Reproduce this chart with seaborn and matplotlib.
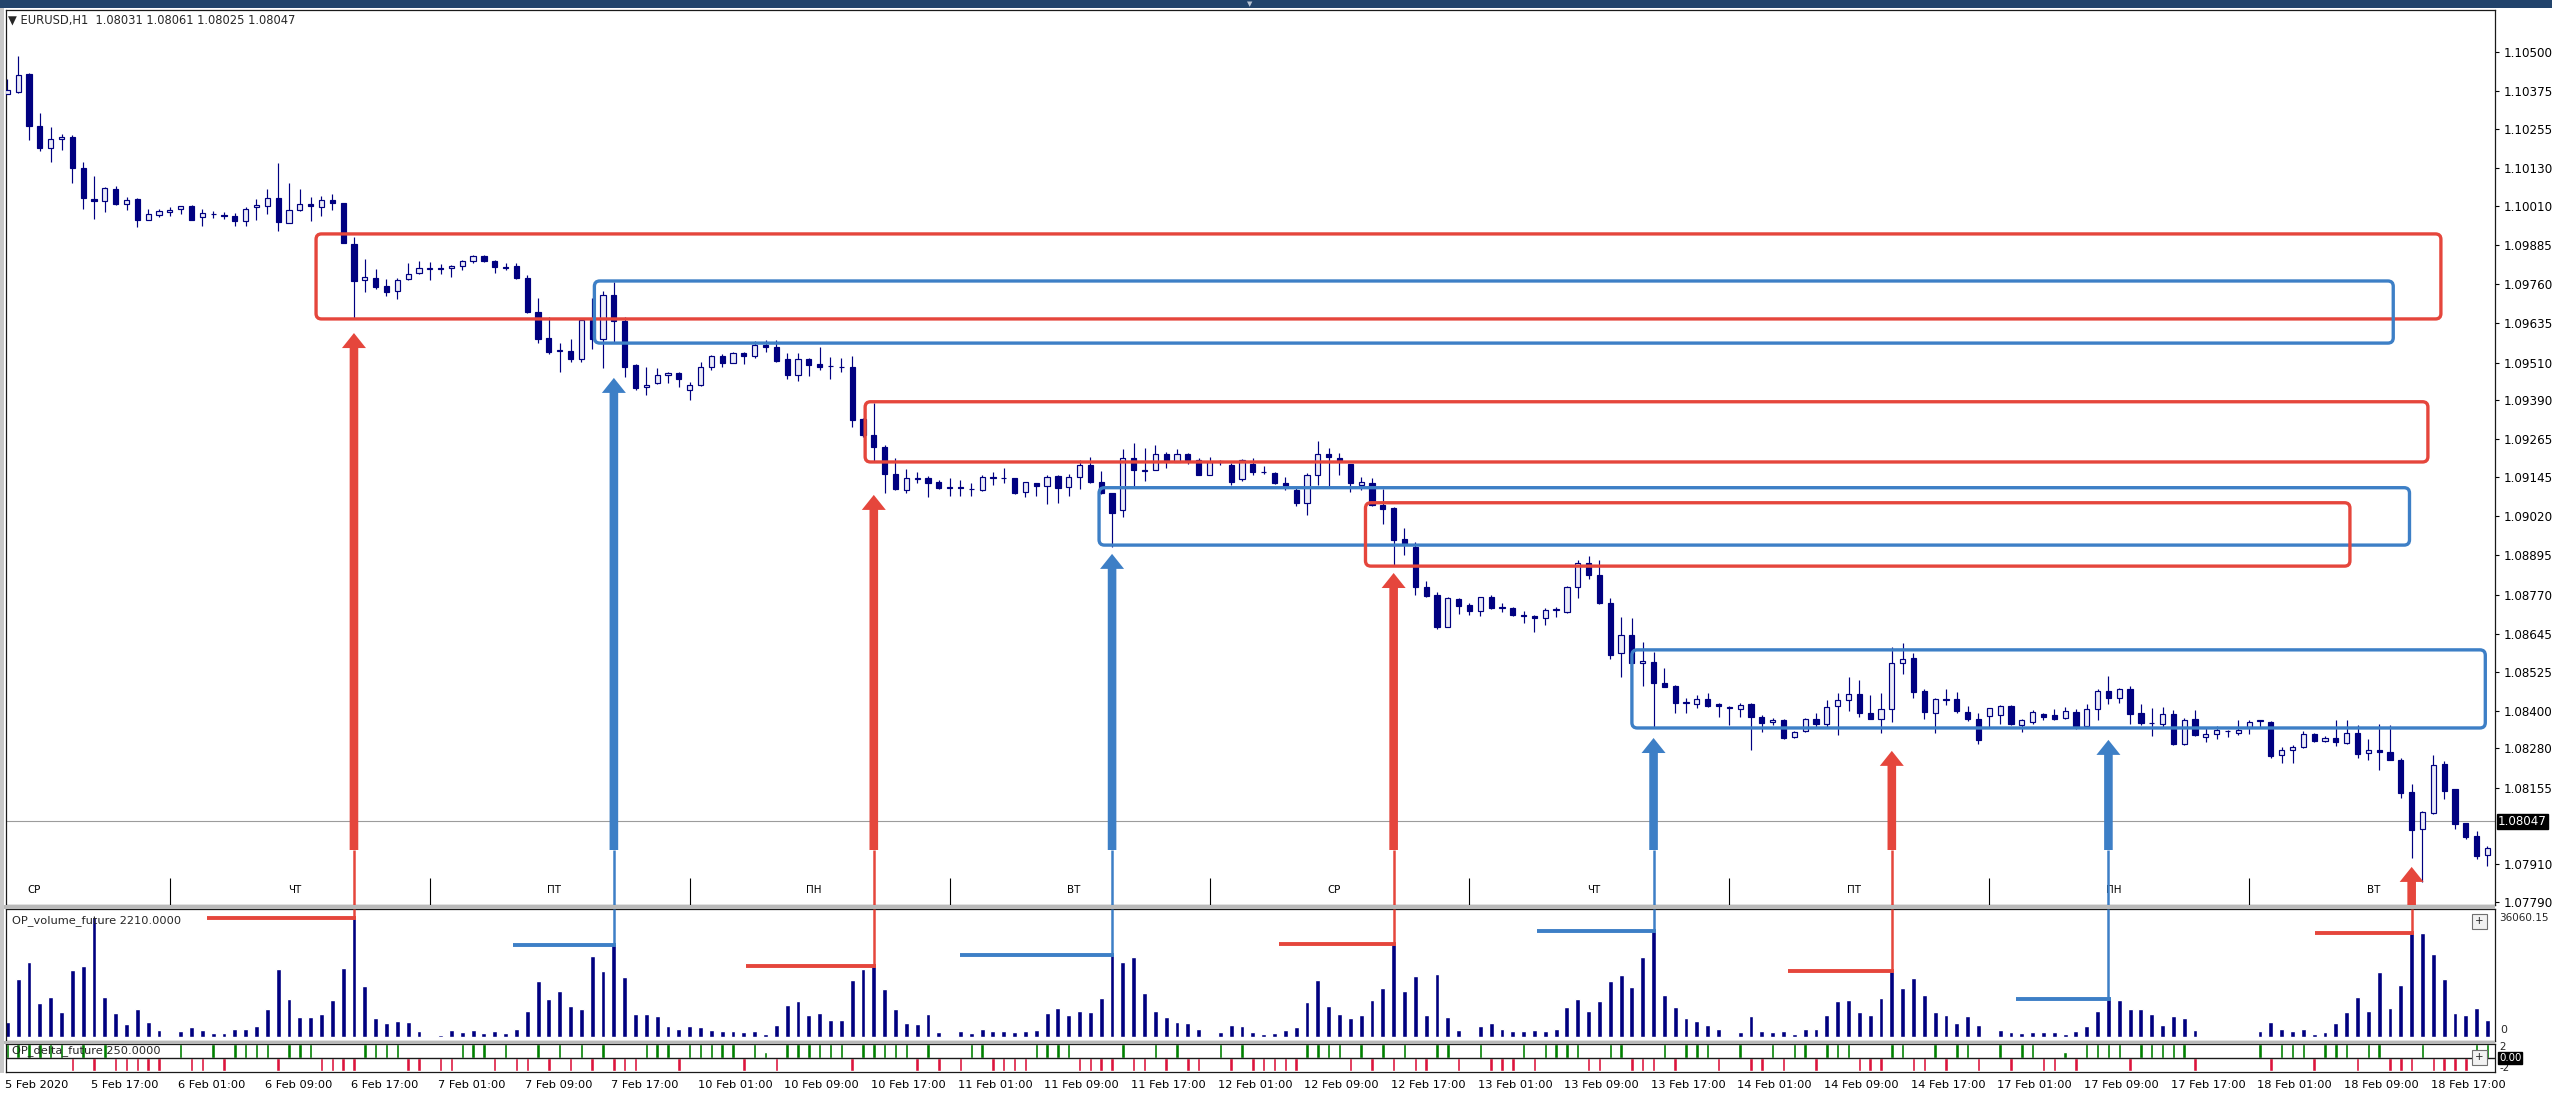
import numpy as np
import pandas as pd
import matplotlib
matplotlib.use("Agg")
import matplotlib.pyplot as plt
import matplotlib.transforms as mtrans
from matplotlib.patches import FancyBboxPatch, Polygon, Rectangle
import seaborn as sns

sns.set_theme(style="white")
plt.rcParams['font.family'] = ['DejaVu Sans']

# ---------------- data (EURUSD H1, 5 Feb 09:00 .. 18 Feb 22:00) ----------------
opens = [
    1.10366, 1.10373, 1.10429, 1.10264, 1.10195, 1.10223, 1.10230, 1.10129, 1.10032, 1.10025,
    1.10063, 1.10017, 1.10030, 1.09966, 1.09980, 1.09989, 1.09998, 1.10010, 1.09975, 1.09985,
    1.09980, 1.09978, 1.09962, 1.10007, 1.10010, 1.10036, 1.09956, 1.09996, 1.10017, 1.10007,
    1.10028, 1.10020, 1.09888, 1.09773, 1.09780, 1.09754, 1.09739, 1.09775, 1.09794, 1.09808,
    1.09810, 1.09810, 1.09819, 1.09835, 1.09849, 1.09835, 1.09815, 1.09817, 1.09781, 1.09672,
    1.09587, 1.09548, 1.09547, 1.09521, 1.09646, 1.09585, 1.09726, 1.09641, 1.09502, 1.09431,
    1.09444, 1.09470, 1.09478, 1.09423, 1.09439, 1.09497, 1.09531, 1.09510, 1.09542, 1.09531,
    1.09566, 1.09559, 1.09520, 1.09470, 1.09520, 1.09504, 1.09499, 1.09497, 1.09497, 1.09329,
    1.09279, 1.09242, 1.09155, 1.09104, 1.09140, 1.09143, 1.09128, 1.09113, 1.09111, 1.09106,
    1.09104, 1.09144, 1.09143, 1.09141, 1.09098, 1.09125, 1.09116, 1.09148, 1.09114, 1.09146,
    1.09183, 1.09128, 1.09093, 1.09040, 1.09205, 1.09164, 1.09169, 1.09220, 1.09194, 1.09220,
    1.09199, 1.09151, 1.09194, 1.09183, 1.09138, 1.09185, 1.09162, 1.09159, 1.09125, 1.09104,
    1.09061, 1.09151, 1.09217, 1.09207, 1.09185, 1.09119, 1.09125, 1.09056, 1.09045, 1.08949,
    1.08923, 1.08795, 1.08769, 1.08668, 1.08755, 1.08737, 1.08719, 1.08763, 1.08729, 1.08728,
    1.08704, 1.08702, 1.08695, 1.08721, 1.08716, 1.08795, 1.08872, 1.08833, 1.08742, 1.08583,
    1.08641, 1.08553, 1.08556, 1.08489, 1.08480, 1.08426, 1.08421, 1.08437, 1.08420, 1.08411,
    1.08405, 1.08420, 1.08381, 1.08363, 1.08370, 1.08315, 1.08335, 1.08374, 1.08357, 1.08416,
    1.08434, 1.08453, 1.08394, 1.08374, 1.08404, 1.08553, 1.08569, 1.08464, 1.08394, 1.08437,
    1.08437, 1.08397, 1.08374, 1.08384, 1.08386, 1.08415, 1.08356, 1.08364, 1.08391, 1.08386,
    1.08377, 1.08395, 1.08351, 1.08404, 1.08464, 1.08441, 1.08468, 1.08393, 1.08362, 1.08358,
    1.08390, 1.08294, 1.08375, 1.08317, 1.08327, 1.08335, 1.08329, 1.08347, 1.08367, 1.08364,
    1.08260, 1.08274, 1.08284, 1.08326, 1.08305, 1.08313, 1.08298, 1.08329, 1.08264, 1.08274,
    1.08268, 1.08244, 1.08141, 1.08024, 1.08075, 1.08231, 1.08149, 1.08043, 1.08000, 1.07940,
]
highs = [
    1.10413, 1.10487, 1.10434, 1.10304, 1.10262, 1.10237, 1.10235, 1.10148, 1.10104, 1.10070,
    1.10074, 1.10039, 1.10033, 1.10001, 1.10001, 1.10005, 1.10010, 1.10012, 1.10001, 1.09994,
    1.09991, 1.09988, 1.10007, 1.10030, 1.10063, 1.10145, 1.10081, 1.10063, 1.10039, 1.10041,
    1.10047, 1.10020, 1.09911, 1.09839, 1.09809, 1.09776, 1.09778, 1.09828, 1.09834, 1.09831,
    1.09823, 1.09821, 1.09837, 1.09853, 1.09853, 1.09837, 1.09828, 1.09826, 1.09789, 1.09717,
    1.09654, 1.09571, 1.09584, 1.09651, 1.09717, 1.09739, 1.09766, 1.09656, 1.09504, 1.09497,
    1.09494, 1.09481, 1.09479, 1.09449, 1.09511, 1.09534, 1.09537, 1.09545, 1.09545, 1.09580,
    1.09582, 1.09582, 1.09542, 1.09542, 1.09524, 1.09558, 1.09529, 1.09524, 1.09531, 1.09332,
    1.09382, 1.09247, 1.09205, 1.09170, 1.09162, 1.09148, 1.09136, 1.09141, 1.09136, 1.09125,
    1.09152, 1.09162, 1.09173, 1.09143, 1.09130, 1.09127, 1.09151, 1.09153, 1.09155, 1.09199,
    1.09210, 1.09164, 1.09095, 1.09233, 1.09252, 1.09236, 1.09247, 1.09226, 1.09233, 1.09223,
    1.09205, 1.09210, 1.09199, 1.09191, 1.09201, 1.09205, 1.09180, 1.09160, 1.09146, 1.09109,
    1.09157, 1.09260, 1.09236, 1.09223, 1.09186, 1.09146, 1.09141, 1.09106, 1.09050, 1.08981,
    1.08939, 1.08814, 1.08779, 1.08761, 1.08758, 1.08742, 1.08763, 1.08769, 1.08742, 1.08732,
    1.08719, 1.08705, 1.08726, 1.08730, 1.08798, 1.08880, 1.08893, 1.08880, 1.08758, 1.08698,
    1.08695, 1.08620, 1.08588, 1.08535, 1.08482, 1.08439, 1.08450, 1.08455, 1.08424, 1.08415,
    1.08426, 1.08424, 1.08386, 1.08376, 1.08374, 1.08336, 1.08376, 1.08394, 1.08434, 1.08455,
    1.08506, 1.08498, 1.08450, 1.08458, 1.08602, 1.08617, 1.08585, 1.08469, 1.08439, 1.08468,
    1.08461, 1.08415, 1.08394, 1.08410, 1.08418, 1.08418, 1.08375, 1.08401, 1.08393, 1.08404,
    1.08411, 1.08404, 1.08422, 1.08468, 1.08510, 1.08471, 1.08478, 1.08420, 1.08409, 1.08411,
    1.08401, 1.08377, 1.08401, 1.08347, 1.08351, 1.08337, 1.08372, 1.08372, 1.08372, 1.08367,
    1.08285, 1.08290, 1.08335, 1.08329, 1.08319, 1.08369, 1.08372, 1.08354, 1.08311, 1.08359,
    1.08356, 1.08248, 1.08167, 1.08080, 1.08260, 1.08239, 1.08149, 1.08043, 1.08018, 1.07968,
]
lows = [
    1.10366, 1.10370, 1.10219, 1.10184, 1.10150, 1.10187, 1.10083, 1.10001, 1.09967, 1.09991,
    1.10012, 1.09996, 1.09941, 1.09964, 1.09973, 1.09977, 1.09985, 1.09964, 1.09946, 1.09972,
    1.09969, 1.09945, 1.09945, 1.09964, 1.09983, 1.09930, 1.09954, 1.09994, 1.09961, 1.09977,
    1.09996, 1.09890, 1.09651, 1.09734, 1.09746, 1.09723, 1.09711, 1.09773, 1.09791, 1.09773,
    1.09791, 1.09783, 1.09805, 1.09828, 1.09831, 1.09797, 1.09805, 1.09775, 1.09669, 1.09571,
    1.09536, 1.09481, 1.09513, 1.09511, 1.09552, 1.09492, 1.09577, 1.09465, 1.09423, 1.09407,
    1.09442, 1.09446, 1.09431, 1.09389, 1.09435, 1.09486, 1.09497, 1.09508, 1.09504, 1.09524,
    1.09545, 1.09513, 1.09457, 1.09452, 1.09467, 1.09486, 1.09457, 1.09481, 1.09303, 1.09274,
    1.09197, 1.09093, 1.09104, 1.09095, 1.09125, 1.09080, 1.09106, 1.09085, 1.09085, 1.09085,
    1.09102, 1.09120, 1.09125, 1.09090, 1.09080, 1.09084, 1.09058, 1.09061, 1.09084, 1.09106,
    1.09127, 1.09091, 1.08923, 1.09019, 1.09114, 1.09133, 1.09167, 1.09173, 1.09194, 1.09186,
    1.09151, 1.09151, 1.09183, 1.09119, 1.09133, 1.09151, 1.09155, 1.09123, 1.09104, 1.09054,
    1.09024, 1.09119, 1.09114, 1.09153, 1.09098, 1.09104, 1.09054, 1.08995, 1.08862, 1.08896,
    1.08769, 1.08761, 1.08659, 1.08666, 1.08708, 1.08705, 1.08702, 1.08724, 1.08716, 1.08702,
    1.08679, 1.08652, 1.08673, 1.08700, 1.08713, 1.08758, 1.08819, 1.08740, 1.08564, 1.08509,
    1.08551, 1.08479, 1.08347, 1.08475, 1.08394, 1.08392, 1.08408, 1.08413, 1.08381, 1.08354,
    1.08381, 1.08275, 1.08333, 1.08354, 1.08310, 1.08312, 1.08333, 1.08349, 1.08349, 1.08323,
    1.08399, 1.08381, 1.08374, 1.08328, 1.08363, 1.08516, 1.08442, 1.08374, 1.08330, 1.08418,
    1.08392, 1.08367, 1.08293, 1.08344, 1.08358, 1.08354, 1.08333, 1.08358, 1.08369, 1.08372,
    1.08375, 1.08342, 1.08347, 1.08372, 1.08422, 1.08425, 1.08358, 1.08353, 1.08319, 1.08345,
    1.08292, 1.08290, 1.08319, 1.08300, 1.08311, 1.08316, 1.08324, 1.08326, 1.08347, 1.08248,
    1.08232, 1.08234, 1.08282, 1.08301, 1.08301, 1.08287, 1.08294, 1.08250, 1.08244, 1.08210,
    1.08242, 1.08122, 1.07931, 1.07854, 1.08072, 1.08117, 1.08024, 1.07990, 1.07928, 1.07905,
]
closes = [
    1.10379, 1.10426, 1.10264, 1.10193, 1.10222, 1.10230, 1.10129, 1.10035, 1.10024, 1.10067,
    1.10014, 1.10028, 1.09964, 1.09982, 1.09993, 1.09996, 1.10009, 1.09966, 1.09988, 1.09982,
    1.09978, 1.09961, 1.10001, 1.10012, 1.10036, 1.09959, 1.09996, 1.10017, 1.10010, 1.10028,
    1.10019, 1.09890, 1.09771, 1.09783, 1.09752, 1.09734, 1.09773, 1.09791, 1.09810, 1.09812,
    1.09807, 1.09819, 1.09835, 1.09849, 1.09835, 1.09815, 1.09811, 1.09778, 1.09672, 1.09585,
    1.09545, 1.09551, 1.09520, 1.09646, 1.09584, 1.09726, 1.09641, 1.09497, 1.09428, 1.09439,
    1.09470, 1.09478, 1.09457, 1.09439, 1.09497, 1.09531, 1.09508, 1.09542, 1.09531, 1.09566,
    1.09561, 1.09515, 1.09470, 1.09520, 1.09502, 1.09497, 1.09498, 1.09495, 1.09327, 1.09279,
    1.09242, 1.09155, 1.09107, 1.09141, 1.09143, 1.09125, 1.09109, 1.09111, 1.09110, 1.09108,
    1.09146, 1.09143, 1.09141, 1.09095, 1.09128, 1.09116, 1.09146, 1.09109, 1.09146, 1.09183,
    1.09128, 1.09093, 1.09031, 1.09205, 1.09167, 1.09169, 1.09220, 1.09194, 1.09220, 1.09199,
    1.09151, 1.09194, 1.09193, 1.09130, 1.09199, 1.09160, 1.09160, 1.09125, 1.09114, 1.09061,
    1.09151, 1.09220, 1.09208, 1.09197, 1.09125, 1.09128, 1.09056, 1.09043, 1.08944, 1.08931,
    1.08795, 1.08766, 1.08668, 1.08758, 1.08734, 1.08719, 1.08761, 1.08729, 1.08728, 1.08705,
    1.08702, 1.08697, 1.08721, 1.08723, 1.08795, 1.08872, 1.08833, 1.08742, 1.08578, 1.08641,
    1.08553, 1.08557, 1.08489, 1.08475, 1.08426, 1.08427, 1.08437, 1.08415, 1.08415, 1.08409,
    1.08418, 1.08381, 1.08362, 1.08370, 1.08314, 1.08333, 1.08374, 1.08357, 1.08411, 1.08434,
    1.08453, 1.08394, 1.08374, 1.08404, 1.08553, 1.08564, 1.08459, 1.08397, 1.08437, 1.08435,
    1.08400, 1.08374, 1.08307, 1.08408, 1.08416, 1.08358, 1.08369, 1.08396, 1.08379, 1.08374,
    1.08398, 1.08349, 1.08407, 1.08464, 1.08441, 1.08468, 1.08388, 1.08361, 1.08360, 1.08390,
    1.08294, 1.08372, 1.08322, 1.08327, 1.08340, 1.08334, 1.08340, 1.08363, 1.08369, 1.08257,
    1.08276, 1.08285, 1.08326, 1.08303, 1.08313, 1.08300, 1.08329, 1.08263, 1.08274, 1.08268,
    1.08244, 1.08138, 1.08020, 1.08078, 1.08226, 1.08144, 1.08039, 1.07997, 1.07936, 1.07961,
]
volume = [
    4450, 17290, 22530, 10080, 12150, 7610, 20060, 21440, 36060, 12150,
    7210, 3850, 8400, 4540, 2070, 0, 1780, 2870, 2070, 1090,
    1090, 2470, 2470, 3160, 8400, 20450, 11460, 5930, 5930, 7010,
    11160, 20750, 35800, 15220, 5630, 4250, 4940, 4540, 1780, 0,
    690, 2070, 1380, 2070, 1090, 1780, 1090, 2470, 7710, 16700,
    11460, 13930, 9390, 8400, 24210, 19760, 27660, 17980, 7010, 7010,
    6320, 3160, 2470, 3160, 2960, 1980, 1780, 1780, 1480, 1780,
    990, 3460, 9680, 10870, 6620, 7210, 5240, 5240, 17090, 20550,
    21240, 14330, 8400, 4250, 3950, 6920, 1480, 0, 1780, 1090,
    2470, 1780, 1780, 1480, 1780, 2170, 7210, 8690, 6620, 7900,
    7610, 11860, 24500, 22530, 23910, 13140, 7900, 5930, 4540, 4250,
    2470, 0, 1480, 3460, 3160, 1480, 790, 1090, 2170, 2870,
    10370, 17090, 9390, 6920, 5630, 6620, 11160, 14620, 27960, 13930,
    18280, 6620, 19070, 5930, 2170, 0, 3160, 4250, 2470, 1780,
    1780, 2070, 1780, 2470, 9090, 11460, 7900, 10800, 16800, 18770,
    15020, 23910, 31810, 12550, 9090, 5730, 4940, 3460, 2470, 0,
    1480, 6220, 1780, 1480, 1780, 990, 2470, 2470, 6620, 10870,
    11160, 7610, 6620, 11860, 19760, 14820, 17590, 12550, 7610, 6620,
    4250, 6220, 3460, 0, 2170, 1480, 1280, 1480, 1480, 1480,
    990, 1680, 3160, 7900, 11360, 11160, 8400, 8400, 6920, 3460,
    6220, 5630, 2170, 0, 0, 0, 0, 0, 1780, 4450,
    2470, 1780, 2470, 990, 1480, 4150, 7610, 12150, 7710, 19460,
    8600, 15610, 31120, 31120, 24900, 17290, 7210, 6620, 8690, 5140,
]
delta = [
    2, 2, 2, 2, 2, 2, -2, 2, -2, 2,
    -2, -2, -2, -2, -2, 0, 2, -2, -2, 2,
    -2, 2, 2, 2, 2, -2, 2, 2, 2, -2,
    -2, -2, -2, 2, 2, 2, 2, -2, -2, 0,
    -2, -2, 2, 2, 2, -2, 2, -2, -2, 2,
    -2, 2, -2, 2, -2, 2, -2, -2, -2, 2,
    2, 2, -2, 2, 2, 2, 2, 2, -2, 2,
    0.9, -2, 2, 2, 2, 2, 2, 2, -2, 2,
    2, 2, 2, 2, -2, 2, -2, 0, -2, 2,
    2, -2, -2, -2, -2, 2, 2, 2, 2, -2,
    -2, -2, -2, 2, -2, -2, 2, -2, 2, -2,
    -2, 0, 2, -2, 2, -2, -2, -2, -2, -2,
    2, 2, 2, 2, -2, 2, -2, 2, -2, 2,
    -2, -2, 2, 2, -2, 0, 2, -2, -2, -2,
    2, -2, 2, 2, 2, 2, -2, -2, 2, 2,
    -2, -2, -2, 2, -2, 2, 2, 2, -2, 0,
    2, -2, -2, 2, -2, 2, 2, -2, 2, 2,
    2, -2, -2, -2, 2, 2, -2, -2, 2, -2,
    2, 2, -2, 0, 2, -2, 2, 2, -2, -2,
    0.9, -2, 2, 2, 2, 2, -2, 2, 2, 2,
    2, 2, -2, 0, 0, 0, 0, 0, 2, -2,
    2, 2, 2, -2, 2, 2, 2, -2, 2, 2,
    -2, -2, -2, 2, -2, -2, -2, -2, 2, 2,
]

time_labels = ["5 Feb 2020", "5 Feb 17:00", "6 Feb 01:00", "6 Feb 09:00", "6 Feb 17:00",
               "7 Feb 01:00", "7 Feb 09:00", "7 Feb 17:00", "10 Feb 01:00", "10 Feb 09:00",
               "10 Feb 17:00", "11 Feb 01:00", "11 Feb 09:00", "11 Feb 17:00", "12 Feb 01:00",
               "12 Feb 09:00", "12 Feb 17:00", "13 Feb 01:00", "13 Feb 09:00", "13 Feb 17:00",
               "14 Feb 01:00", "14 Feb 09:00", "14 Feb 17:00", "17 Feb 01:00", "17 Feb 09:00",
               "17 Feb 17:00", "18 Feb 01:00", "18 Feb 09:00", "18 Feb 17:00"]
time_label_bars = list(range(0, 225, 8))

weekdays = ["СР", "ЧТ", "ПТ", "ПН", "ВТ", "СР", "ЧТ", "ПТ", "ПН", "ВТ"]
day_start_bars = [-9, 15, 39, 63, 87, 111, 135, 159, 183, 207]

price_ticks = [1.10500, 1.10375, 1.10255, 1.10130, 1.10010, 1.09885, 1.09760, 1.09635,
               1.09510, 1.09390, 1.09265, 1.09145, 1.09020, 1.08895, 1.08770, 1.08645,
               1.08525, 1.08400, 1.08280, 1.08155, 1.07910, 1.07790]
last_price = 1.08047

# zones drawn on the chart
zone_start = [28.5, 54.2, 79.2, 100.8, 125.4, 150.0]
zone_end = [224.7, 220.3, 223.5, 221.8, 216.3, 228.8]
zone_low = [1.09649, 1.09572, 1.09193, 1.08928, 1.08861, 1.08345]
zone_high = [1.09920, 1.09770, 1.09385, 1.09111, 1.09063, 1.08594]
zone_kind = ["sell", "buy", "sell", "buy", "sell", "buy"]

# volume spikes marked with arrows
signal_bars = [32, 56, 80, 102, 128, 152, 174, 194, 222]
signal_tip = [1.09604, 1.09461, 1.09088, 1.08900, 1.08839, 1.08313, 1.08272, 1.08307, 1.07902]
signal_kind = ["sell", "buy", "sell", "buy", "sell", "buy", "sell", "buy", "sell"]
signal_span = [13.6, 9.3, 11.8, 14.0, 10.6, 10.8, 9.6, 8.5, 8.9]

# ---------------- style ----------------
W, H = 2552, 1093
NAVY = "#000080"
BULL = "#ececf8"
GREEN = "#008000"
CRIMSON = "#dc143c"
MARK = {"sell": "#e5463c", "buy": "#3d7fc6"}
FS = 8.2

L, R = 6, 2495
PX_PER_BAR = 10.83
X0 = 7.4
xlim = ((L - X0) / PX_PER_BAR, (R - X0) / PX_PER_BAR)
PRICE_PER_PX = 3.188e-5

fig = plt.figure(figsize=(W / 100, H / 100), dpi=100)
fig.patch.set_facecolor("white")


def add_ax(top, bottom):
    return fig.add_axes([L / W, 1 - bottom / H, (R - L) / W, (bottom - top) / H])


def fig_rect(x, y, w, h, **kw):
    fig.add_artist(Rectangle((x / W, 1 - (y + h) / H), w / W, h / H,
                             transform=fig.transFigure, **kw))


def fig_text(x, y, s, **kw):
    kw.setdefault("fontsize", FS)
    kw.setdefault("va", "center")
    fig.text(x / W, 1 - y / H, s, **kw)


# window chrome
fig_rect(0, 0, W, 8, facecolor="#22446c", edgecolor="none")
fig_text(1250, 4, "▼", fontsize=5, color="#b8c4d4", ha="center")
fig_rect(0, 905, R, 4, facecolor="#b9b9b9", edgecolor="none")
fig_rect(0, 1041, R, 3, facecolor="#b9b9b9", edgecolor="none")
fig_rect(0, 8, 4, 1065, facecolor="#c8c8c8", edgecolor="none")

axp = add_ax(10, 905)
axv = add_ax(909, 1041)
axd = add_ax(1044, 1072)

for ax in (axp, axv, axd):
    ax.set_facecolor("white")
    for sp in ax.spines.values():
        sp.set_color("#1a1a1a")
        sp.set_linewidth(0.9)

bars = np.arange(len(closes))
o = np.array(opens)
h = np.array(highs)
l = np.array(lows)
c = np.array(closes)
hi = np.maximum(h, np.maximum(o, c))
lo = np.minimum(l, np.minimum(o, c))

# ---------------- price panel ----------------
axp.vlines(bars, lo, hi, color=NAVY, linewidth=0.85, zorder=2)
body_lo = np.minimum(o, c)
body_h = np.maximum(np.abs(c - o), 0.00002)
up = c >= o
axp.bar(bars[up], body_h[up], bottom=body_lo[up], width=0.48, color=BULL,
        edgecolor=NAVY, linewidth=0.85, zorder=3)
axp.bar(bars[~up], body_h[~up], bottom=body_lo[~up], width=0.48, color=NAVY,
        edgecolor=NAVY, linewidth=0.85, zorder=3)

p_bottom = 1.105 - 853 * PRICE_PER_PX
p_top = 1.105 + 42 * PRICE_PER_PX
axp.set_xlim(*xlim)
axp.set_ylim(p_bottom, p_top)
axp.axhline(last_price, color="#9c9c9c", linewidth=0.8, zorder=1)

axp.set_xticks([])
axp.yaxis.tick_right()
axp.set_yticks(price_ticks)
axp.set_yticklabels([f"{v:.5f}" for v in price_ticks])
axp.tick_params(axis="y", right=True, left=False, length=3, width=0.8,
                direction="out", pad=3, labelsize=8.6, colors="black")
axp.text(1.0012, last_price, f"{last_price:.5f}", color="white", fontsize=8.6,
         va="center", ha="left", transform=axp.get_yaxis_transform(),
         bbox=dict(facecolor="black", edgecolor="black", pad=1.0), zorder=10)

# weekday strip
bt = mtrans.blended_transform_factory(axp.transData, axp.transAxes)
for wd, ds in zip(weekdays, day_start_bars):
    axp.text(ds + 11.5, 0.0168, wd, transform=bt, ha="center", va="center",
             fontsize=7.4, color="black")
axp.vlines(day_start_bars[1:], 0, 0.03, transform=bt, color="black", linewidth=0.8)

# zones
aspect = PRICE_PER_PX * PX_PER_BAR
for x0, x1, zl, zh, kind in zip(zone_start, zone_end, zone_low, zone_high, zone_kind):
    axp.add_patch(FancyBboxPatch((x0, zl), x1 - x0, zh - zl,
                                 boxstyle="round,pad=0,rounding_size=0.5",
                                 mutation_aspect=aspect, fill=False,
                                 edgecolor=MARK[kind], linewidth=2.4, zorder=5))

# arrows
shaft_hw = 4.3 / PX_PER_BAR
head_hw = 12.0 / PX_PER_BAR
head_len = 15 * PRICE_PER_PX
thick_end = 1.105 - 798 * PRICE_PER_PX
for b, tip, kind in zip(signal_bars, signal_tip, signal_kind):
    base = tip - head_len
    bottom = thick_end if base > thick_end + 0.0001 else p_bottom
    pts = [(b - shaft_hw, bottom), (b - shaft_hw, base), (b - head_hw, base), (b, tip),
           (b + head_hw, base), (b + shaft_hw, base), (b + shaft_hw, bottom)]
    axp.add_patch(Polygon(pts, closed=True, facecolor=MARK[kind], edgecolor="none", zorder=6))
    if bottom > p_bottom:
        axp.vlines(b, p_bottom, bottom, color=MARK[kind], linewidth=1.8, zorder=6)

fig_text(8, 20, "▼ EURUSD,H1  1.08031 1.08061 1.08025 1.08047", fontsize=8.3)

# ---------------- volume panel ----------------
sns.barplot(x=bars, y=volume, native_scale=True, color=NAVY, saturation=1,
            width=0.45, errorbar=None, ax=axv)
v_per_px = 36060.15 / 120
axv.set_xlim(*xlim)
axv.set_ylim(-4 * v_per_px, 36060.15 + 8 * v_per_px)
axv.set_xticks([])
axv.set_yticks([])
axv.set_xlabel("")
axv.set_ylabel("")

for b, kind, span in zip(signal_bars, signal_kind, signal_span):
    lvl = volume[b]
    axv.vlines(b, lvl, axv.get_ylim()[1], color=MARK[kind], linewidth=1.8, zorder=4)
    axv.hlines(lvl, b - span, b + 0.2, color=MARK[kind], linewidth=2.8, zorder=4)

fig_text(12, 921, "OP_volume_future 2210.0000")
fig_text(2499, 918, "36060.15", fontsize=7.5)
fig_text(2500, 1030, "0", fontsize=7.8)

# ---------------- delta panel ----------------
delta_arr = np.array(delta, dtype=float)
delta_df = pd.DataFrame({
    "bar": bars,
    "delta": delta_arr,
    "side": np.where(delta_arr > 0, "buy", np.where(delta_arr < 0, "sell", "flat")),
})
sns.barplot(data=delta_df, x="bar", y="delta", hue="side",
            palette={"buy": GREEN, "sell": CRIMSON, "flat": "white"},
            native_scale=True, dodge=False, width=0.32, saturation=1,
            errorbar=None, legend=False, ax=axd)
axd.set_xlim(*xlim)
axd.set_ylim(-2.15, 2.05)
axd.axhline(0, color="#1a1a1a", linewidth=1.0, zorder=3)
axd.set_xticks([])
axd.set_yticks([])
axd.set_xlabel("")
axd.set_ylabel("")

fig_text(12, 1051, "OP_delta_future 250.0000")
fig_text(2499, 1047, "2", fontsize=7.4)
fig_text(2499, 1068, "-2", fontsize=7.4)
fig_text(2499, 1058, "0.00", fontsize=7.4, color="white",
         bbox=dict(facecolor="black", edgecolor="black", pad=0.6))

# "+" buttons of the sub windows
for yb in (914, 1050):
    fig_rect(2472, yb, 15, 15, facecolor="#f2f2f2", edgecolor="#707070", linewidth=0.8)
    fig_text(2479.5, yb + 7.5, "+", fontsize=7.4, ha="center")

# ---------------- time axis ----------------
bt_d = mtrans.blended_transform_factory(axd.transData, axd.transAxes)
for pos, lab in zip(time_label_bars, time_labels):
    axd.text(pos - 0.25, -0.47, lab, transform=bt_d, ha="left", va="center",
             fontsize=FS, color="black", clip_on=False)

fig.savefig("out.png", dpi=100, facecolor=fig.get_facecolor())
